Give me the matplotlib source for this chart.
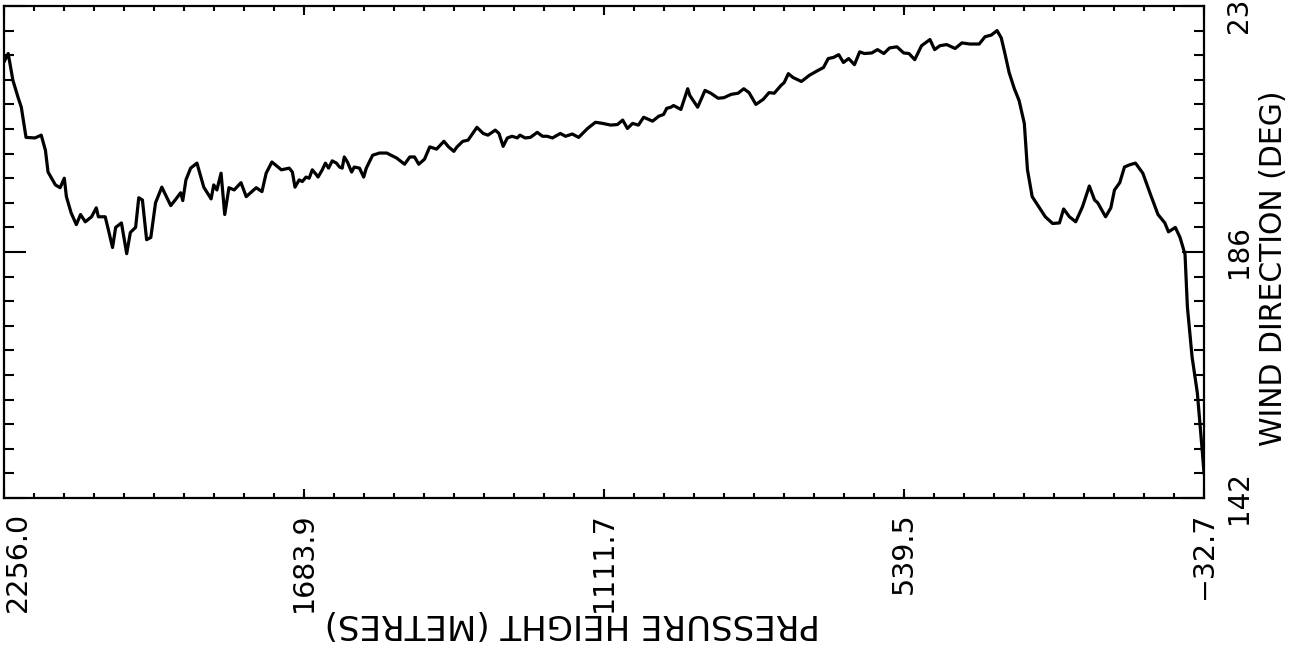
import matplotlib
matplotlib.use("Agg")
import matplotlib.pyplot as plt
import matplotlib.transforms as mtransforms
import numpy as np

# pressure height (m) and wind direction (deg)
height = [2256, 2248, 2239, 2229, 2223, 2214, 2197, 2185, 2177, 2172,
          2158, 2149, 2141, 2137, 2128, 2118, 2110, 2101, 2089, 2080,
          2076, 2063, 2057, 2049, 2043, 2032, 2022, 2015, 2005, 1999,
          1992, 1984, 1976, 1967, 1955, 1938, 1932, 1919, 1915, 1909,
          1900, 1888, 1875, 1861, 1856, 1850, 1842, 1835, 1827, 1817,
          1804, 1794, 1775, 1764, 1756, 1745, 1727, 1712, 1706, 1701,
          1693, 1687, 1680, 1674, 1668, 1660, 1657, 1649, 1643, 1637,
          1630, 1622, 1616, 1611, 1607, 1601, 1593, 1588, 1578, 1570,
          1565, 1553, 1540, 1526, 1507, 1492, 1482, 1473, 1465, 1454,
          1444, 1431, 1417, 1408, 1398, 1392, 1381, 1371, 1354, 1342,
          1333, 1319, 1312, 1304, 1296, 1287, 1277, 1272, 1262, 1252,
          1239, 1229, 1220, 1210, 1195, 1185, 1172, 1160, 1143, 1128,
          1114, 1099, 1086, 1076, 1067, 1057, 1046, 1036, 1019, 1007,
          998, 992, 984, 979, 965, 952, 948, 933, 919, 908,
          894, 883, 869, 856, 845, 835, 822, 808, 797, 787,
          774, 768, 760, 751, 735, 720, 705, 693, 684, 674,
          664, 655, 645, 634, 624, 615, 601, 590, 578, 567,
          553, 540, 530, 519, 506, 490, 481, 471, 458, 442,
          429, 414, 396, 385, 373, 362, 354, 347, 339, 329,
          320, 310, 304, 295, 281, 270, 256, 243, 235, 224,
          212, 199, 186, 176, 170, 155, 145, 138, 128, 119,
          109, 98, 84, 69, 55, 42, 35, 22, 13, 3.5,
          -1, -10, -20, -26, -30, -32.7]
wind_dir = [220.0, 221.5, 216.7, 213.6, 211.9, 206.5, 206.4, 206.9, 204.2, 200.3,
            198.0, 197.5, 199.2, 195.9, 193.0, 190.9, 192.7, 191.4, 192.3, 193.9,
            192.3, 192.3, 190.0, 186.8, 190.4, 191.2, 185.7, 189.5, 190.4, 195.7,
            195.3, 188.2, 188.6, 194.8, 197.6, 194.3, 195.0, 196.6, 195.2, 198.9,
            201.0, 201.9, 197.6, 195.5, 198.0, 197.1, 200.1, 192.7, 197.5, 197.1,
            198.4, 195.9, 197.5, 196.8, 200.1, 202.1, 200.7, 201.0, 200.3, 197.6,
            198.9, 198.6, 199.4, 199.2, 200.7, 199.8, 199.4, 200.7, 201.9, 201.0,
            202.3, 201.9, 201.2, 201.0, 203.0, 202.1, 200.3, 201.2, 201.0, 199.4,
            201.0, 203.3, 203.7, 203.7, 202.8, 201.7, 203.0, 203.0, 201.7, 202.6,
            204.8, 204.4, 205.8, 204.8, 204.0, 204.8, 205.8, 206.0, 208.3, 207.2,
            206.9, 207.8, 207.2, 204.9, 206.4, 206.7, 206.4, 206.9, 206.4, 206.5,
            207.4, 206.7, 206.7, 206.4, 207.2, 206.7, 207.1, 206.5, 208.1, 209.2,
            209.0, 208.7, 208.8, 209.6, 208.1, 209.0, 208.7, 210.1, 209.4, 210.3,
            210.6, 211.7, 211.9, 212.2, 211.5, 215.2, 214.0, 211.9, 214.9, 214.4,
            213.5, 213.6, 214.2, 214.4, 215.2, 214.5, 212.4, 213.3, 214.5, 214.4,
            215.8, 216.3, 217.9, 217.2, 216.5, 217.6, 218.4, 219.0, 220.6, 220.8,
            221.3, 219.9, 220.6, 219.5, 221.8, 221.5, 221.6, 222.2, 221.5, 222.5,
            222.7, 221.6, 221.5, 220.4, 222.9, 224.0, 222.2, 222.9, 223.1, 222.4,
            223.4, 223.2, 223.2, 224.5, 224.8, 225.6, 224.3, 221.5, 218.1, 215.2,
            213.1, 209.0, 200.7, 195.9, 193.9, 192.3, 191.1, 191.2, 193.7, 192.3,
            191.4, 194.1, 197.8, 195.3, 194.8, 192.3, 193.9, 197.1, 198.4, 201.2,
            201.6, 201.9, 200.1, 196.2, 192.7, 191.2, 189.6, 190.4, 188.6, 185.6,
            176.2, 167.2, 160.8, 154.2, 149.7, 146.5]

x_major = [2256.0, 1683.9, 1111.7, 539.5, -32.7]
x_labels = ["2256.0", "1683.9", "1111.7", "539.5", "\u221232.7"]
y_major = [142, 186, 230]
y_labels = ["142", "186", "230"]

W, H = 1292, 650
L, R, T, B = 4, 1204, 6, 498

fig = plt.figure(figsize=(W / 100, H / 100), dpi=100)
ax = fig.add_axes([L / W, 1 - B / H, (R - L) / W, (B - T) / H])

ax.plot(height, wind_dir, color="black", lw=2.3, solid_joinstyle="round")

ax.set_xlim(x_major[0], x_major[-1])
ax.set_ylim(y_major[0], y_major[-1])
ax.set_xticks(x_major)
ax.set_xticks(np.linspace(x_major[0], x_major[-1], 41), minor=True)
ax.set_yticks(y_major)
ax.set_yticks(np.linspace(y_major[0], y_major[-1], 21), minor=True)

ax.tick_params(axis="x", which="major", direction="in", length=6.5, width=1.5,
               top=True, bottom=True, labelbottom=False)
ax.tick_params(axis="x", which="minor", direction="in", length=3.8, width=1.5,
               top=True, bottom=True)
ax.tick_params(axis="y", which="major", direction="in", length=16, width=1.5,
               left=True, right=True, labelleft=False)
ax.tick_params(axis="y", which="minor", direction="in", length=7.5, width=1.5,
               left=True, right=True)
for s in ax.spines.values():
    s.set_linewidth(1.6)

# tick labels, rotated like the original plot (text end toward the axis)
tx = mtransforms.blended_transform_factory(ax.transData, ax.transAxes)
for i, (v, s) in enumerate(zip(x_major, x_labels)):
    ax.text(v, (B - 512) / (B - T), s, transform=tx, rotation=90,
            ha="left" if i == 0 else "center", va="top",
            fontsize=20.5, clip_on=False)

ty = mtransforms.blended_transform_factory(ax.transAxes, ax.transData)
for v, s in zip(y_major, y_labels):
    ax.text((1239 - L) / (R - L), v, s, transform=ty, rotation=90,
            ha="center", va="center", fontsize=20, clip_on=False)

fig.text(1273 / W, 1 - 268 / H, "WIND DIRECTION (DEG)", rotation=90,
         ha="center", va="center", fontsize=21.5)
fig.text(572 / W, 1 - 624 / H, "PRESSURE HEIGHT (METRES)", rotation=180,
         ha="center", va="center", fontsize=24.5)

fig.savefig("out.png", dpi=100)
